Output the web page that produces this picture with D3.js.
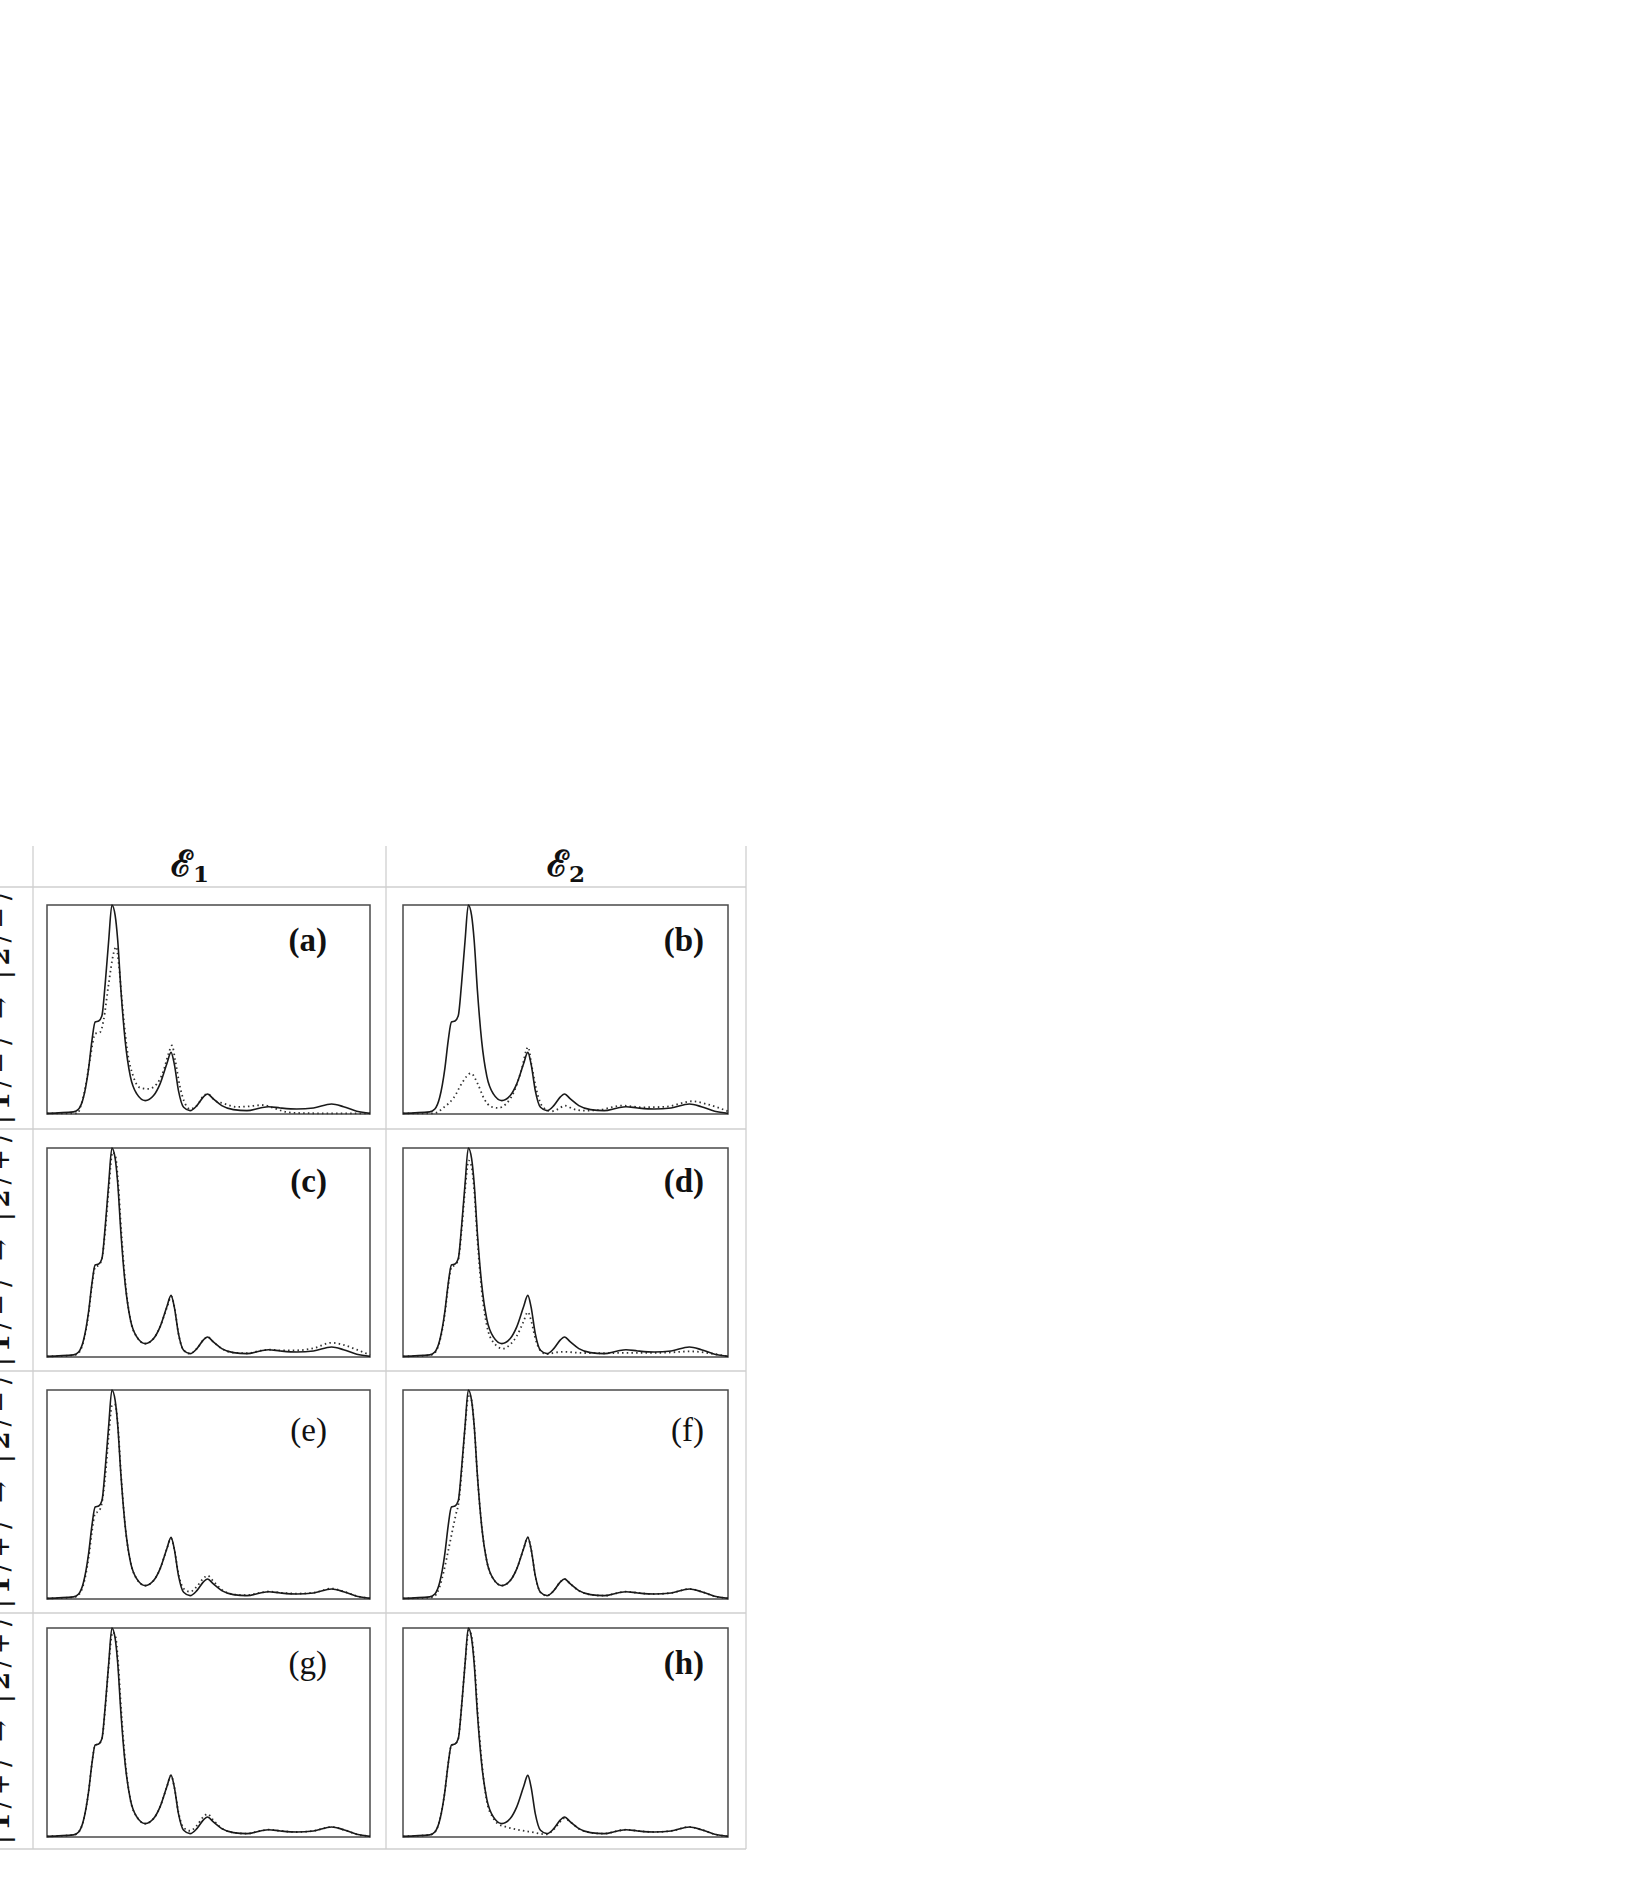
<!DOCTYPE html>
<html>
<head>
<meta charset="utf-8">
<script src="https://cdn.jsdelivr.net/npm/d3@7"></script>
<style>
  html, body { margin: 0; padding: 0; background: #ffffff; }
  svg { display: block; }
</style>
</head>
<body>
<svg id="chart" width="1642" height="1895"></svg>
<script>
// ---------------- data ----------------
const columnSymbols = ["ℰ", "ℰ"];
const columnSubscripts = ["1", "2"];

// row labels: [initial parity of |1>, final parity of |2>]
const rowInitial = ["−", "−", "+", "+"];
const rowFinal   = ["−", "+", "−", "+"];

const panelLetters = ["(a)", "(b)", "(c)", "(d)", "(e)", "(f)", "(g)", "(h)"];

// reference (solid) spectrum, [x in % of axis, relative intensity]
const solidSpectrum = [
  [0,0.003],[8.2,0.01],[9.8,0.024],[11.3,0.08],[12.9,0.22],[13.9,0.35],[14.9,0.44],[16,0.445],
  [17,0.47],[18,0.62],[19.1,0.83],[20.1,1.0],[21.1,0.95],[21.9,0.83],[22.9,0.59],[24.2,0.35],
  [25.8,0.18],[27.8,0.096],[30.4,0.064],[33,0.088],[35,0.144],[37.1,0.24],[38.4,0.295],[39.4,0.24],
  [40.7,0.112],[42.3,0.032],[44.3,0.016],[46.4,0.04],[48.5,0.083],[49.7,0.096],[51.5,0.072],[54.1,0.04],
  [57.7,0.021],[61.9,0.016],[66,0.029],[68.6,0.035],[72.2,0.029],[77.3,0.024],[82.5,0.029],[88.1,0.048],
  [91.8,0.035],[95.9,0.013],[100,0.003]
];

// dotted (model) spectra, one per panel
const dottedA = [
  [0,0.003],[9.5,0.003],[10.3,0.032],[11.9,0.128],[13.4,0.27],[14.9,0.384],[16.5,0.392],[17.5,0.448],
  [19.1,0.624],[20.6,0.768],[21.4,0.8],[22.2,0.72],[23.2,0.544],[24.7,0.32],[26.8,0.176],[28.9,0.125],
  [31.4,0.12],[34,0.144],[36.1,0.208],[37.6,0.288],[38.7,0.328],[39.7,0.256],[41.2,0.128],[42.8,0.048],
  [44.3,0.024],[46.4,0.04],[49,0.093],[50,0.093],[52,0.064],[54.6,0.051],[58.8,0.034],[61.9,0.036],
  [67,0.043],[70.1,0.029],[73.2,0.013],[77.3,0.005],[87.6,0.003],[100,0.003]
];
const dottedB = [
  [0,0.003],[9.5,0.003],[12.6,0.032],[15.7,0.08],[18.3,0.152],[20.9,0.195],[23,0.144],[25,0.072],
  [27.1,0.035],[29.2,0.029],[31.7,0.048],[34.3,0.112],[36.4,0.208],[38.5,0.32],[39.5,0.24],[41.1,0.112],
  [43.1,0.032],[45.7,0.013],[47.8,0.024],[49.8,0.04],[52.4,0.024],[56,0.016],[60.2,0.019],[67.4,0.04],
  [73.6,0.032],[80.9,0.035],[89.1,0.061],[93.3,0.048],[100,0.013]
];
const dottedC = [
  [0,0.003],[8.2,0.008],[9.8,0.02],[11.3,0.075],[12.9,0.21],[13.9,0.34],[14.9,0.43],[16,0.44],
  [17,0.47],[18,0.6],[19.1,0.8],[20.3,0.98],[21.2,0.96],[22,0.84],[23,0.6],[24.3,0.35],
  [25.8,0.18],[27.8,0.096],[30.4,0.064],[33,0.088],[35,0.144],[37.1,0.235],[38.5,0.29],[39.5,0.235],
  [40.7,0.112],[42.3,0.032],[44.3,0.016],[46.4,0.04],[48.5,0.083],[49.7,0.096],[51.5,0.072],[54.1,0.04],
  [57.7,0.021],[61.9,0.018],[66,0.03],[68.6,0.035],[72.2,0.032],[77.3,0.032],[82.5,0.042],[88.1,0.068],
  [91.8,0.058],[95.9,0.035],[100,0.01]
];
const dottedD = [
  [0,0.003],[8.2,0.008],[9.8,0.02],[11.3,0.075],[12.9,0.21],[13.9,0.34],[14.9,0.43],[16,0.44],
  [17,0.465],[18,0.6],[19.1,0.8],[20.2,0.94],[21.1,0.91],[21.9,0.8],[22.9,0.56],[24.2,0.32],
  [25.8,0.15],[27.8,0.07],[30.8,0.04],[33,0.06],[35,0.1],[37.1,0.17],[38.4,0.215],[39.5,0.17],
  [40.7,0.09],[42.3,0.03],[44.3,0.014],[46.4,0.02],[49.7,0.025],[54.1,0.02],[61.9,0.018],[68.6,0.02],
  [77.3,0.02],[82.5,0.022],[88.1,0.027],[92.5,0.022],[95.9,0.014],[100,0.003]
];
const dottedE = [
  [0,0.003],[8.2,0.008],[9.8,0.02],[11.3,0.07],[12.9,0.2],[13.9,0.32],[14.9,0.41],[16,0.42],
  [17,0.46],[18,0.58],[19.1,0.78],[20.2,0.93],[21.1,0.93],[21.9,0.84],[22.9,0.6],[24.2,0.35],
  [25.8,0.18],[27.8,0.096],[30.4,0.064],[33,0.088],[35,0.144],[37.1,0.24],[38.4,0.29],[39.4,0.24],
  [40.7,0.12],[42.3,0.05],[44.3,0.035],[46.4,0.06],[48.5,0.1],[49.7,0.112],[51.5,0.085],[54.1,0.045],
  [57.7,0.022],[61.9,0.018],[66,0.03],[68.6,0.036],[72.2,0.03],[77.3,0.026],[82.5,0.03],[88.1,0.05],
  [91.8,0.036],[95.9,0.014],[100,0.003]
];
const dottedF = [
  [0,0.003],[8.2,0.006],[9.8,0.015],[11.3,0.06],[12.6,0.136],[13.9,0.23],[15.2,0.327],[16.2,0.4],
  [17.2,0.47],[18,0.6],[19.1,0.82],[20.2,0.98],[21.1,0.95],[21.9,0.83],[22.9,0.59],[24.2,0.35],
  [25.8,0.18],[27.8,0.096],[30.4,0.064],[33,0.088],[35,0.144],[37.1,0.24],[38.4,0.295],[39.4,0.24],
  [40.7,0.112],[42.3,0.032],[44.3,0.016],[46.4,0.04],[48.5,0.083],[49.7,0.096],[51.5,0.072],[54.1,0.04],
  [57.7,0.021],[61.9,0.016],[66,0.029],[68.6,0.035],[72.2,0.029],[77.3,0.024],[82.5,0.029],[88.1,0.048],
  [91.8,0.035],[95.9,0.013],[100,0.003]
];
const dottedG = [
  [0,0.003],[8.2,0.01],[9.8,0.024],[11.3,0.08],[12.9,0.22],[13.9,0.35],[14.9,0.44],[16,0.445],
  [17,0.47],[18,0.61],[19.1,0.82],[20.3,0.98],[21.2,0.96],[22,0.84],[23,0.6],[24.3,0.35],
  [25.8,0.18],[27.8,0.096],[30.4,0.064],[33,0.088],[35,0.144],[37.1,0.24],[38.4,0.295],[39.4,0.24],
  [40.7,0.118],[42.3,0.045],[44.3,0.03],[46.4,0.055],[48.5,0.098],[49.7,0.11],[51.5,0.08],[54.1,0.042],
  [57.7,0.021],[61.9,0.016],[66,0.029],[68.6,0.035],[72.2,0.029],[77.3,0.024],[82.5,0.029],[88.1,0.048],
  [91.8,0.035],[95.9,0.013],[100,0.003]
];
const dottedH = [
  [0,0.003],[8.2,0.01],[9.8,0.024],[11.3,0.08],[12.9,0.22],[13.9,0.35],[14.9,0.44],[16,0.445],
  [17,0.47],[18,0.62],[19.1,0.83],[20.3,0.99],[21.2,0.95],[22,0.83],[23,0.59],[24.3,0.35],
  [25.8,0.17],[27.8,0.09],[29.1,0.064],[31.2,0.051],[35.3,0.035],[39.4,0.024],[44.1,0.013],[46.6,0.04],
  [48.5,0.075],[49.7,0.09],[51.5,0.072],[54.1,0.04],[57.7,0.021],[61.9,0.016],[66,0.029],[68.6,0.035],
  [72.2,0.029],[77.3,0.024],[82.5,0.029],[88.1,0.048],[91.8,0.035],[95.9,0.013],[100,0.003]
];
const dottedSeries = [dottedA, dottedB, dottedC, dottedD, dottedE, dottedF, dottedG, dottedH];

// ---------------- layout ----------------
const svg = d3.select("#chart");
svg.append("rect").attr("width", 1642).attr("height", 1895).attr("fill", "#fff");

const gridX = [33, 386, 746];            // vertical table rules
const headerTop = 846;
const rowEdges = [887, 1129, 1371, 1613, 1849];
const boxX = [[47, 370], [403, 728]];
const boxTopOffset = [18, 19, 19, 15];
const boxHeight = 209;
const labelRight = [327, 704];
const labelOffset = [46, 44, 51, 46];
const boldLetter = [true, true, true, true, false, false, false, true];
const gridColor = "#cfcfcf";

// table rules
const rules = svg.append("g").attr("stroke", gridColor).attr("stroke-width", 1.3);
gridX.forEach(x => rules.append("line")
  .attr("x1", x).attr("x2", x).attr("y1", headerTop).attr("y2", rowEdges[4]));
rowEdges.forEach(y => rules.append("line")
  .attr("x1", 0).attr("x2", gridX[2]).attr("y1", y).attr("y2", y));

// column headers
const headerCenters = [190, 566];
columnSymbols.forEach((s, i) => {
  const t = svg.append("text")
    .attr("x", headerCenters[i]).attr("y", 876)
    .attr("text-anchor", "middle")
    .attr("font-family", "'DejaVu Serif', serif")
    .attr("font-size", 36).attr("font-weight", "bold")
    .attr("fill", "#111");
  t.append("tspan").text(s);
  t.append("tspan").attr("font-size", 23).attr("dy", 6).text(columnSubscripts[i]);
});

// row labels (rotated, mostly cut at page edge as in the reference)
const defs = svg.append("defs");
rowInitial.forEach((p, r) => {
  const y0 = rowEdges[r], y1 = rowEdges[r + 1];
  defs.append("clipPath").attr("id", "rowclip" + r)
    .append("rect").attr("x", 0).attr("y", y0 + 1).attr("width", gridX[0] - 1).attr("height", y1 - y0 - 2);
  const g = svg.append("g").attr("clip-path", `url(#rowclip${r})`);
  const t = g.append("text")
    .attr("transform", `translate(9,${(y0 + y1) / 2}) rotate(-90)`)
    .attr("text-anchor", "middle")
    .attr("font-family", "'DejaVu Serif', serif")
    .attr("font-size", 26)
    .attr("textLength", y1 - y0 - 10).attr("lengthAdjust", "spacing")
    .attr("fill", "#111");
  t.append("tspan").text("|");
  t.append("tspan").attr("font-weight", "bold").text("1");
  t.append("tspan").text("/" + p + "⟩ → |");
  t.append("tspan").attr("font-weight", "bold").text("2");
  t.append("tspan").text("/" + rowFinal[r] + "⟩");
});

// panels
const line = (xs, ys) => d3.line()
  .x(d => xs(d[0])).y(d => ys(d[1]))
  .curve(d3.curveMonotoneX);

panelLetters.forEach((letter, i) => {
  const r = Math.floor(i / 2), c = i % 2;
  const top = rowEdges[r] + boxTopOffset[r];
  const bottom = top + boxHeight;
  const xs = d3.scaleLinear().domain([0, 100]).range(boxX[c]);
  const ys = d3.scaleLinear().domain([0, 1]).range([bottom, top]);
  const g = svg.append("g");

  g.append("rect")
    .attr("x", xs(0)).attr("y", ys(1))
    .attr("width", xs(100) - xs(0)).attr("height", ys(0) - ys(1))
    .attr("fill", "none").attr("stroke", "#4a4a4a").attr("stroke-width", 1.5);

  g.append("path").datum(dottedSeries[i])
    .attr("d", line(xs, ys))
    .attr("fill", "none").attr("stroke", "#333")
    .attr("stroke-width", 1.8).attr("stroke-dasharray", "1.5 3.2");

  g.append("path").datum(solidSpectrum)
    .attr("d", line(xs, ys))
    .attr("fill", "none").attr("stroke", "#1a1a1a")
    .attr("stroke-width", 1.6).attr("stroke-linejoin", "round");

  g.append("text")
    .attr("x", labelRight[c]).attr("y", top + labelOffset[r])
    .attr("text-anchor", "end")
    .attr("font-family", "'Liberation Serif', serif")
    .attr("font-size", 33)
    .attr("font-weight", boldLetter[i] ? "bold" : "normal")
    .attr("fill", "#111")
    .text(letter);
});
</script>
</body>
</html>
